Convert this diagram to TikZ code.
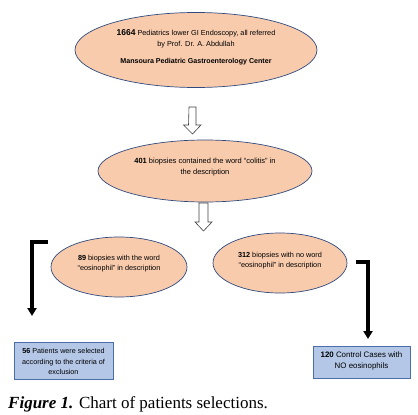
\documentclass[tikz,border=0pt]{standalone}
\usepackage{fontspec}
\setmainfont{Liberation Sans}
\newfontfamily\capfont{Liberation Serif}
\usetikzlibrary{shapes.geometric,arrows.meta}
\definecolor{peach}{HTML}{F8CBAD}
\definecolor{ellborder}{HTML}{2F4A7F}
\definecolor{boxfill}{HTML}{B4C7E7}
\definecolor{boxborder}{HTML}{4A6FA8}
\begin{document}
\begin{tikzpicture}[x=1pt,y=-1pt,
  ell/.style={ellipse,draw=ellborder,line width=0.7pt,fill=peach,inner sep=0pt},
  txt/.style={align=center,inner sep=0pt,font=\fontsize{7.3}{10.5}\selectfont},
  bx/.style={rectangle,draw=boxborder,line width=0.8pt,fill=boxfill,inner sep=0pt},
  hollow/.style={draw=black!75,line width=0.6pt,fill=white},
  thick arrow/.style={line width=3.3pt,-{Triangle[width=9pt,length=8pt]}}]
\useasboundingbox (0,0) rectangle (418,415);
% ellipses
\node[ell,minimum width=242pt,minimum height=75pt] (e1) at (196,50) {};
\node[ell,minimum width=214pt,minimum height=62pt] (e2) at (205,171) {};
\node[ell,minimum width=136pt,minimum height=60pt] (e3) at (119,267) {};
\node[ell,minimum width=134pt,minimum height=60pt] (e4) at (280,263) {};
% texts
\node[txt] (t1) at (196,39) {{\bfseries\fontsize{8.5}{10.5}\selectfont 1664} Pediatrics lower GI Endoscopy, all referred\\by Prof. Dr. A. Abdullah};
\node[txt,font=\bfseries\fontsize{7.1}{10}\selectfont] (t1b) at (196,62) {Mansoura Pediatric Gastroenterology Center};
\node[txt,font=\fontsize{7.5}{11}\selectfont] (t2) at (205,167.5) {{\bfseries 401} biopsies contained the word “colitis” in\\the description};
\node[txt] (t3) at (119,263.5) {{\bfseries 89} biopsies with the word\\“eosinophil” in description};
\node[txt] (t4) at (280,260.5) {{\bfseries 312} biopsies with no word\\“eosinophil” in description};
% boxes
\node[bx,minimum width=99pt,minimum height=37pt] (b1) at (63.5,360.5) {};
\node[txt,font=\fontsize{7.2}{10.5}\selectfont] (tb1) at (63.5,361.5) {{\bfseries 56} Patients were selected\\according to the criteria of\\exclusion};
\node[bx,minimum width=97pt,minimum height=32pt] (b2) at (361.5,362) {};
\node[txt,font=\fontsize{7.9}{11}\selectfont] (tb2) at (361.5,360.5) {{\bfseries 120} Control Cases with\\NO eosinophils};
% hollow arrows
\coordinate (a1) at (192.5,107);
\draw[hollow] (a1) ++(-3.5,0) -- ++(7,0) -- ++(0,18) -- ++(5,0) -- ++(-8.5,9) -- ++(-9,-9) -- ++(5,0) -- cycle;
\coordinate (a2) at (203.5,203);
\draw[hollow] (a2) ++(-4.5,0) -- ++(9,0) -- ++(0,19) -- ++(4,0) -- ++(-8.5,9) -- ++(-8.5,-9) -- ++(4,0) -- cycle;
% bracket arrows
\coordinate (l1) at (48,242);
\coordinate (l2) at (32,242);
\coordinate (l3) at (32,316);
\draw[thick arrow] (l1) -- (l2) -- (l3);
\coordinate (r1) at (356,262);
\coordinate (r2) at (368,262);
\coordinate (r3) at (368,339);
\draw[thick arrow] (r1) -- (r2) -- (r3);
% caption
\node[anchor=base west,inner sep=0pt,font=\capfont\fontsize{17}{19}\selectfont] (cap) at (8,408) {\textbf{\textit{Figure 1.}} Chart of patients selections.};
\end{tikzpicture}
\end{document}
